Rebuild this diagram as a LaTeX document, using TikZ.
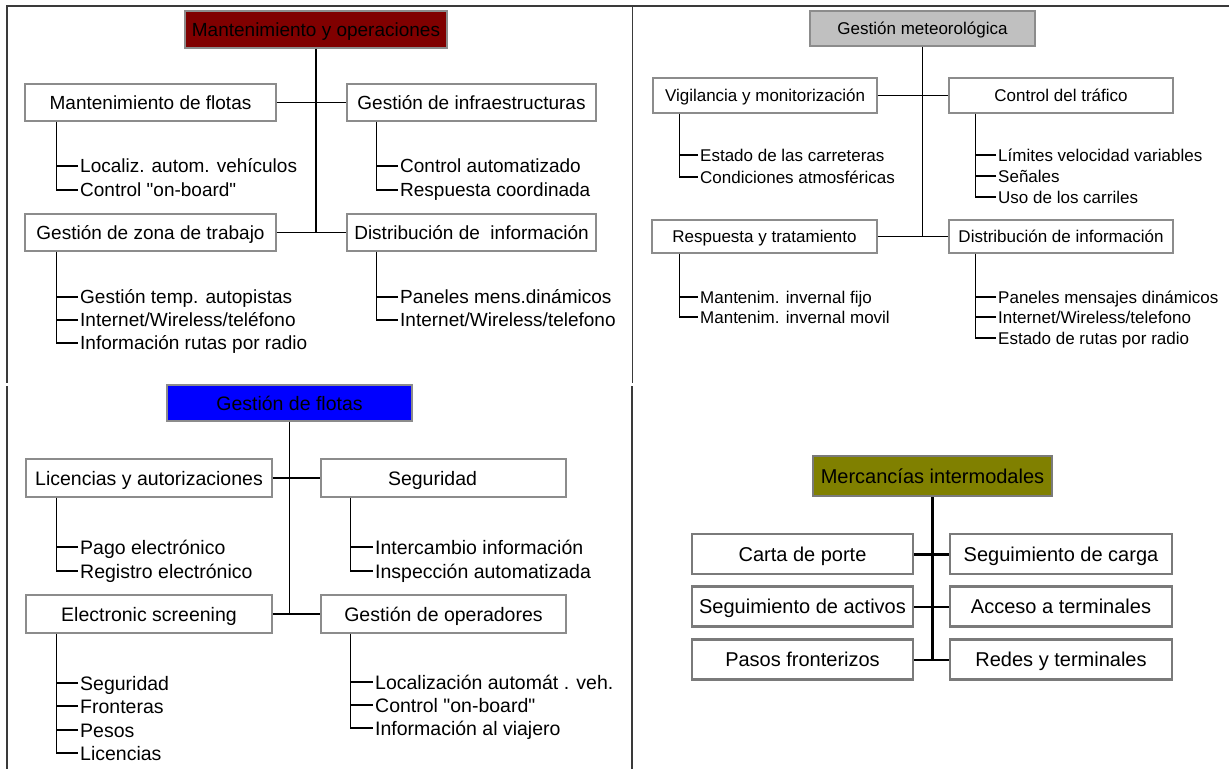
\documentclass[tikz,border=0pt]{standalone}
\usepackage{fontspec}
\setmainfont{Liberation Sans}[Ligatures=TeXOff]

\definecolor{frameline}{HTML}{3A3A3A}
\definecolor{boxline}{HTML}{8C8C8C}
\definecolor{heavyline}{HTML}{7A7A7A}
\definecolor{maroonfill}{HTML}{800000}
\definecolor{greyfill}{HTML}{C0C0C0}
\definecolor{bluefill}{HTML}{0000FF}
\definecolor{olivefill}{HTML}{808000}

\tikzset{
  fa/.style={font=\fontsize{19}{22}\selectfont, text height=13.6pt, text depth=0pt},
  fb/.style={font=\fontsize{17}{20}\selectfont, text height=12.2pt, text depth=0pt},
  fc/.style={font=\fontsize{19.5}{23}\selectfont, text height=14pt, text depth=0pt},
  fd/.style={font=\fontsize{20}{24}\selectfont, text height=14.3pt, text depth=0pt},
  box/.style={draw=boxline, line width=1.2pt, fill=white, inner sep=2pt,
              align=center, text=black},
  heavybox/.style={box, draw=heavyline, line width=2.8pt},
  leaf/.style={anchor=west, inner sep=2pt, text=black},
  tree/.style={draw=black, line width=1.3pt},
  heavytree/.style={draw=black, line width=3pt},
  rule/.style={draw=frameline, line width=1.4pt},
}

\begin{document}
\begin{tikzpicture}[x=1pt,y=-1pt]
\useasboundingbox (0,0) rectangle (1229,769);

% ---------- frame ----------
\draw[rule] (6,6) -- (1229,6);
\draw[rule] (7,6) -- (7,383);
\draw[rule] (7,386) -- (7,769);
\draw[rule] (632.5,6) -- (632.5,383);
\draw[rule] (632,386) -- (632,769);

% ---------- Mantenimiento y operaciones ----------
\begin{scope}[fa]
\node[box, fill=maroonfill, minimum width=262pt, minimum height=37pt] (t1) at (316,29.5) {Mantenimiento y operaciones};
\node[box, minimum width=251pt, minimum height=37pt] (mf) at (150.5,102.5) {Mantenimiento de flotas};
\node[box, minimum width=249pt, minimum height=37pt] (gi) at (471.5,102.5) {Gestión de infraestructuras};
\node[box, minimum width=251pt, minimum height=37pt] (gz) at (150.5,232.5) {Gestión de zona de trabajo};
\node[box, minimum width=249pt, minimum height=37pt] (di) at (471.5,232.5) {Distribución de\ \ información};

\node[leaf] (mf1) at (78,166) {Localiz. autom. vehículos};
\node[leaf] (mf2) at (78,190) {Control "on-board"};
\node[leaf] (gi1) at (398,166) {Control automatizado};
\node[leaf] (gi2) at (398,190) {Respuesta coordinada};
\node[leaf] (gz1) at (78,297) {Gestión temp. autopistas};
\node[leaf] (gz2) at (78,320) {Internet/Wireless/teléfono};
\node[leaf] (gz3) at (78,343) {Información rutas por radio};
\node[leaf] (di1) at (398,297) {Paneles mens.dinámicos};
\node[leaf] (di2) at (398,320) {Internet/Wireless/telefono};
\end{scope}

\draw[tree] (t1.south) -- (t1.south |- gz.east);
\draw[tree] (mf.east) -- (gi.west);
\draw[tree] (gz.east) -- (di.west);

\coordinate (mfv) at ([xshift=32pt]mf.south west);
\draw[tree] (mfv) |- (mf2.west);
\draw[tree] (mf1.west) -- (mf1.west -| mfv);
\coordinate (giv) at ([xshift=30pt]gi.south west);
\draw[tree] (giv) |- (gi2.west);
\draw[tree] (gi1.west) -- (gi1.west -| giv);
\coordinate (gzv) at ([xshift=32pt]gz.south west);
\draw[tree] (gzv) |- (gz3.west);
\draw[tree] (gz1.west) -- (gz1.west -| gzv);
\draw[tree] (gz2.west) -- (gz2.west -| gzv);
\coordinate (div) at ([xshift=30pt]di.south west);
\draw[tree] (div) |- (di2.west);
\draw[tree] (di1.west) -- (di1.west -| div);

% ---------- Gestión meteorológica ----------
\begin{scope}[fb]
\node[box, fill=greyfill, minimum width=225pt, minimum height=35pt] (t2) at (922.5,28.5) {Gestión meteorológica};
\node[box, minimum width=224pt, minimum height=35pt] (vm) at (765,95.5) {Vigilancia y monitorización};
\node[box, minimum width=224pt, minimum height=35pt] (ct) at (1061,95.5) {Control del tráfico};
\node[box, minimum width=225pt, minimum height=33pt] (rt) at (764.5,236.5) {Respuesta y tratamiento};
\node[box, minimum width=224pt, minimum height=33pt] (dt) at (1061,236.5) {Distribución de información};

\node[leaf] (vm1) at (698,155) {Estado de las carreteras};
\node[leaf] (vm2) at (698,177) {Condiciones atmosféricas};
\node[leaf] (ct1) at (996,155) {Límites velocidad variables};
\node[leaf] (ct2) at (996,176) {Señales};
\node[leaf] (ct3) at (996,197) {Uso de los carriles};
\node[leaf] (rt1) at (698,297) {Mantenim. invernal fijo};
\node[leaf] (rt2) at (698,317) {Mantenim. invernal movil};
\node[leaf] (dt1) at (996,297) {Paneles mensajes dinámicos};
\node[leaf] (dt2) at (996,317) {Internet/Wireless/telefono};
\node[leaf] (dt3) at (996,338) {Estado de rutas por radio};
\end{scope}

\draw[tree] (t2.south) -- (t2.south |- dt.west);
\draw[tree] (vm.east) -- (ct.west);
\draw[tree] (rt.east) -- (dt.west);

\coordinate (vmv) at ([xshift=27pt]vm.south west);
\draw[tree] (vmv) |- (vm2.west);
\draw[tree] (vm1.west) -- (vm1.west -| vmv);
\coordinate (ctv) at ([xshift=27pt]ct.south west);
\draw[tree] (ctv) |- (ct3.west);
\draw[tree] (ct1.west) -- (ct1.west -| ctv);
\draw[tree] (ct2.west) -- (ct2.west -| ctv);
\coordinate (rtv) at ([xshift=28pt]rt.south west);
\draw[tree] (rtv) |- (rt2.west);
\draw[tree] (rt1.west) -- (rt1.west -| rtv);
\coordinate (dtv) at ([xshift=27pt]dt.south west);
\draw[tree] (dtv) |- (dt3.west);
\draw[tree] (dt1.west) -- (dt1.west -| dtv);
\draw[tree] (dt2.west) -- (dt2.west -| dtv);

% ---------- Gestión de flotas ----------
\begin{scope}[fc]
\node[box, fill=bluefill, minimum width=245pt, minimum height=36pt] (t3) at (289.5,403) {Gestión de flotas};
\node[box, minimum width=246pt, minimum height=38pt] (la) at (149,478) {Licencias y autorizaciones};
\node[box, minimum width=245pt, minimum height=38pt] (sg) at (443.5,478) {Seguridad\hspace*{22pt}};
\node[box, minimum width=246pt, minimum height=38pt] (es) at (149,614) {Electronic screening};
\node[box, minimum width=245pt, minimum height=38pt] (go) at (443.5,614) {Gestión de operadores};

\node[leaf] (la1) at (78,547) {Pago electrónico};
\node[leaf] (la2) at (78,571) {Registro electrónico};
\node[leaf] (sg1) at (373,547) {Intercambio información};
\node[leaf] (sg2) at (373,571) {Inspección automatizada};
\node[leaf] (es1) at (78,683) {Seguridad};
\node[leaf] (es2) at (78,706) {Fronteras};
\node[leaf] (es3) at (78,730) {Pesos};
\node[leaf] (es4) at (78,753) {Licencias};
\node[leaf] (go1) at (373,682) {Localización automát . veh.};
\node[leaf] (go2) at (373,705) {Control "on-board"};
\node[leaf] (go3) at (373,728) {Información al viajero};
\end{scope}

\draw[tree] (t3.south) -- (t3.south |- es.east);
\draw[tree] (la.east) -- (sg.west);
\draw[tree] (es.east) -- (go.west);

\coordinate (lav) at ([xshift=31pt]la.south west);
\draw[tree] (lav) |- (la2.west);
\draw[tree] (la1.west) -- (la1.west -| lav);
\coordinate (sgv) at ([xshift=30pt]sg.south west);
\draw[tree] (sgv) |- (sg2.west);
\draw[tree] (sg1.west) -- (sg1.west -| sgv);
\coordinate (esv) at ([xshift=31pt]es.south west);
\draw[tree] (esv) |- (es4.west);
\draw[tree] (es1.west) -- (es1.west -| esv);
\draw[tree] (es2.west) -- (es2.west -| esv);
\draw[tree] (es3.west) -- (es3.west -| esv);
\coordinate (gov) at ([xshift=30pt]go.south west);
\draw[tree] (gov) |- (go3.west);
\draw[tree] (go1.west) -- (go1.west -| gov);
\draw[tree] (go2.west) -- (go2.west -| gov);

% ---------- Mercancías intermodales ----------
\begin{scope}[fd]
\node[heavybox, fill=olivefill, minimum width=239pt, minimum height=40pt] (t4) at (932.5,476) {Mercancías intermodales};
\node[heavybox, minimum width=221pt, minimum height=40pt] (cp) at (802.5,554) {Carta de porte};
\node[heavybox, minimum width=221pt, minimum height=40pt] (sa) at (802.5,606.5) {Seguimiento de activos};
\node[heavybox, minimum width=221pt, minimum height=40pt] (pf) at (802.5,659.5) {Pasos fronterizos};
\node[heavybox, minimum width=222pt, minimum height=40pt] (sc) at (1061,554) {Seguimiento de carga};
\node[heavybox, minimum width=222pt, minimum height=40pt] (at) at (1061,606.5) {Acceso a terminales};
\node[heavybox, minimum width=222pt, minimum height=40pt] (rd) at (1061,659.5) {Redes y terminales};
\end{scope}

\draw[heavytree] (t4.south) -- (t4.south |- pf.east);
\draw[heavytree] (cp.east) -- (sc.west);
\draw[tree, line width=2pt] (sa.east) -- (at.west);
\draw[tree, line width=2pt] (pf.east) -- (rd.west);

\end{tikzpicture}
\end{document}
